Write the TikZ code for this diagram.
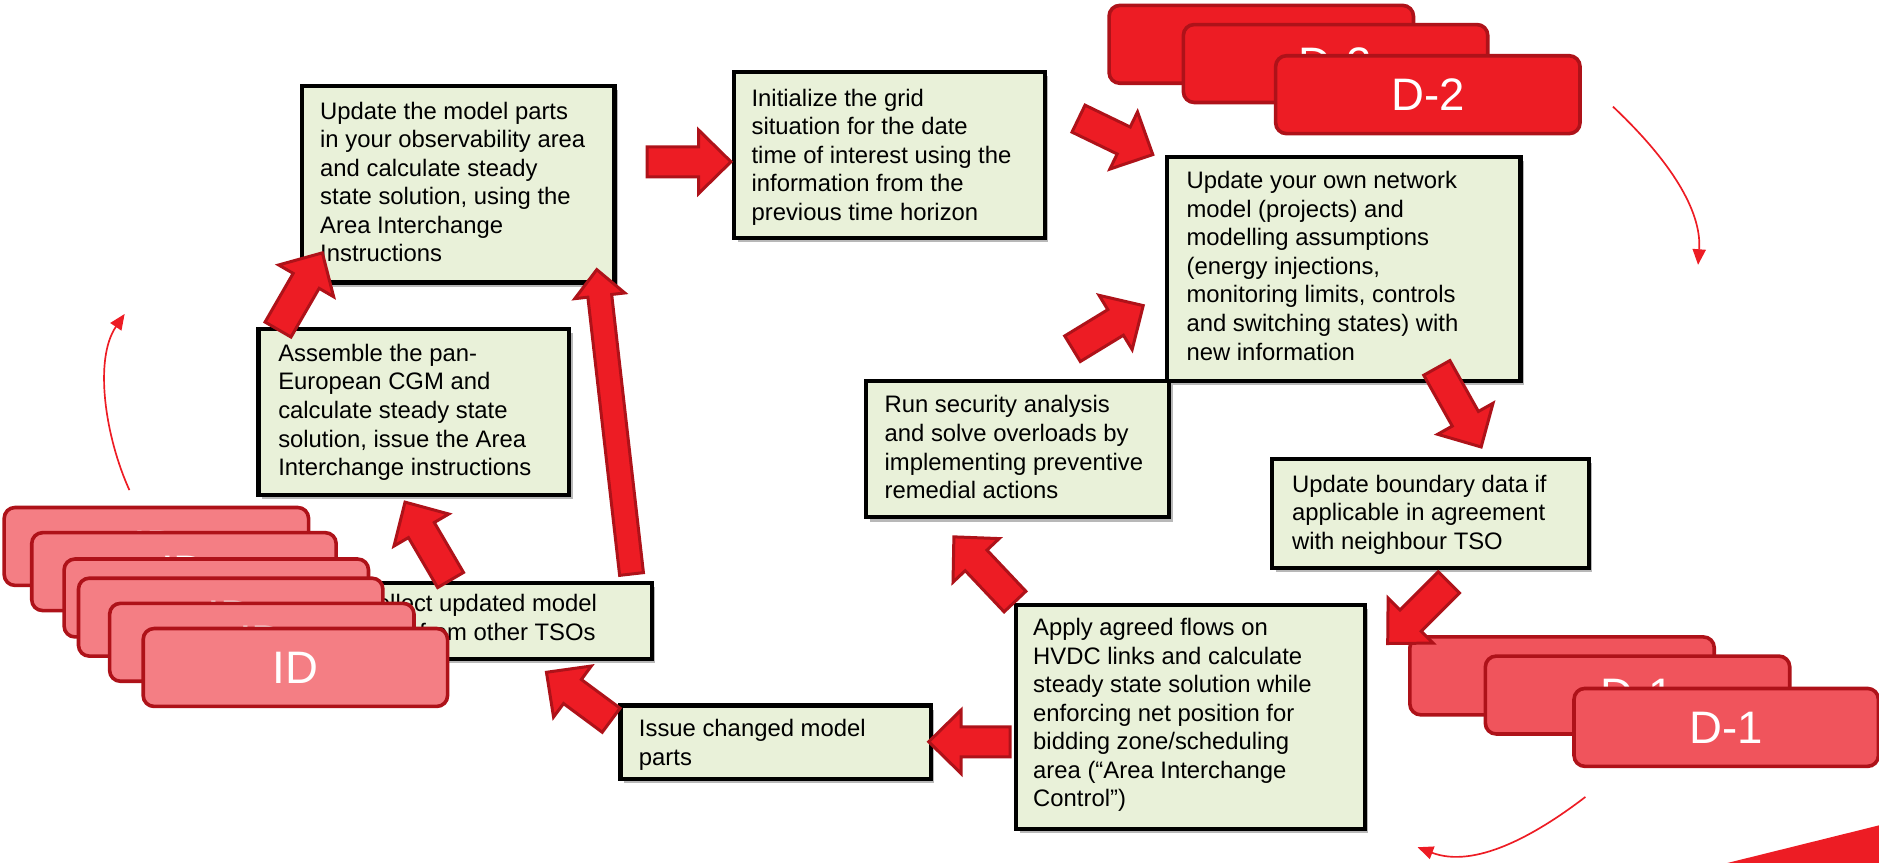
\documentclass[tikz,border=0pt]{standalone}
\usepackage{fontspec}
\setmainfont{Liberation Sans}
\usetikzlibrary{calc,shadows,arrows.meta}
\definecolor{boxgreen}{HTML}{E9F1D9}
\definecolor{brightred}{HTML}{ED1C24}
\definecolor{darkred}{HTML}{AE1219}
\definecolor{midred}{HTML}{F0545C}
\definecolor{pinkred}{HTML}{F47E84}
\tikzset{
  gbox/.style={draw=black, line width=3.5pt, fill=boxgreen, inner sep=0pt, anchor=north west,
    drop shadow={shadow xshift=3pt, shadow yshift=-3.5pt, opacity=0.28, fill=black}},
  gtext/.style={anchor=north west, inner sep=0pt, align=left,
    font=\fontsize{19.9}{23.8}\selectfont, execute at begin node={\rule{0pt}{20pt}}},
  rbox/.style={draw=darkred, line width=3pt, rounded corners=9pt, anchor=north west,
    minimum width=254pt, minimum height=65pt, inner sep=0pt, text=white,
    font=\fontsize{38}{40}\selectfont},
  blockarr/.style={fill=brightred, draw=darkred, line width=2.5pt, line join=miter},
  thinarr/.style={draw=brightred, line width=1.4pt, -{Triangle[length=13pt,width=11pt]}}
}
\newcommand\fatarr[5]{%
  \coordinate (hb) at ($(#2)!#5!(#1)$);
  \draw[blockarr] ($(#1)!#3!90:(#2)$) -- ($(hb)!#3!-90:(#1)$) -- ($(hb)!#4!-90:(#1)$) -- (#2)
    -- ($(hb)!#4!90:(#1)$) -- ($(hb)!#3!90:(#1)$) -- ($(#1)!#3!-90:(#2)$) -- cycle;}
\begin{document}
\begin{tikzpicture}[x=1pt,y=-1pt]
\useasboundingbox (0,0) rectangle (1568,720);

% D-2 stack
\node[rbox, fill=brightred] (d2a) at (924,3) {D-2};
\node[rbox, fill=brightred] (d2b) at (986,19) {D-2};
\node[rbox, fill=brightred] (d2c) at (1063,45) {D-2};

% green boxes
\node[gbox, minimum width=261pt, minimum height=164pt] (b1) at (250,70) {};
\node[gtext] (t1) at ($(b1.north west)+(17,15)$) {Update the model parts\\in your observability area\\and calculate steady\\state solution, using the\\Area Interchange\\Instructions};

\node[gbox, minimum width=259pt, minimum height=139pt] (b2) at (611,58) {};
\node[gtext] (t2) at ($(b2.north west)+(16,16)$) {Initialize the grid\\situation for the date\\time of interest using the\\information from the\\previous time horizon};

\node[gbox, minimum width=295pt, minimum height=187pt] (b3) at (972,129) {};
\node[gtext] (t3) at ($(b3.north west)+(18,14)$) {Update your own network\\model (projects) and\\modelling assumptions\\(energy injections,\\monitoring limits, controls\\and switching states) with\\new information};

\node[gbox, minimum width=253pt, minimum height=114pt] (b4) at (721,316) {};
\node[gtext] (t4) at ($(b4.north west)+(17,14)$) {Run security analysis\\and solve overloads by\\implementing preventive\\remedial actions};

\node[gbox, minimum width=264pt, minimum height=91pt] (b5) at (1060,381) {};
\node[gtext] (t5) at ($(b5.north west)+(18,15)$) {Update boundary data if\\applicable in agreement\\with neighbour TSO};

\node[gbox, minimum width=291pt, minimum height=187pt] (b6) at (846,503) {};
\node[gtext] (t6) at ($(b6.north west)+(16,13)$) {Apply agreed flows on\\HVDC links and calculate\\steady state solution while\\enforcing net position for\\bidding zone/scheduling\\area (“Area Interchange\\Control”)};

\node[gbox, minimum width=259pt, minimum height=61pt] (b7) at (516,587) {};
\node[gtext] (t7) at ($(b7.north west)+(17,13)$) {Issue changed model\\parts};

\node[gbox, minimum width=259pt, minimum height=138pt] (b9) at (214,273) {};
\node[gtext] (t9) at ($(b9.north west)+(18,14)$) {Assemble the pan-\\European CGM and\\calculate steady state\\solution, issue the Area\\Interchange instructions};

\node[gbox, minimum width=259pt, minimum height=63pt] (b8) at (283,485) {};
\node[gtext] (t8) at ($(b8.north west)+(17,11)$) {Collect updated model\\parts from other TSOs};

% D-1 stack
\node[rbox, fill=midred] (d1a) at (1175,530) {D-1};
\node[rbox, fill=midred] (d1b) at (1238,546) {D-1};
\node[rbox, fill=midred] (d1c) at (1312,573) {D-1};

% block arrows
\coordinate (a1t) at (540,135);  \coordinate (a1h) at (610,135);
\coordinate (a2t) at (900,99);   \coordinate (a2h) at (962,129);
\coordinate (a3t) at (895,291);  \coordinate (a3h) at (954,255);
\coordinate (a4t) at (1199,307); \coordinate (a4h) at (1236,373);
\coordinate (a5t) at (1209,486); \coordinate (a5h) at (1158,537);
\coordinate (a6t) at (847,502);  \coordinate (a6h) at (796,448);
\coordinate (a7t) at (843,619);  \coordinate (a7h) at (775,619);
\coordinate (a8t) at (510,601);  \coordinate (a8h) at (456,561);
\coordinate (a9t) at (376,484);  \coordinate (a9h) at (338,419);
\coordinate (a10t) at (232,275); \coordinate (a10h) at (269,211);
\coordinate (a11t) at (527,479); \coordinate (a11h) at (498,225);
\fatarr{a1t}{a1h}{12.5pt}{26.5pt}{27pt}
\fatarr{a2t}{a2h}{12.5pt}{26.5pt}{27pt}
\fatarr{a3t}{a3h}{12.5pt}{26.5pt}{27pt}
\fatarr{a4t}{a4h}{12.5pt}{26.5pt}{27pt}
\fatarr{a5t}{a5h}{12.5pt}{26.5pt}{27pt}
\fatarr{a6t}{a6h}{12.5pt}{26.5pt}{27pt}
\fatarr{a7t}{a7h}{12.5pt}{26.5pt}{27pt}
\fatarr{a8t}{a8h}{12.5pt}{26.5pt}{27pt}
\fatarr{a9t}{a9h}{12.5pt}{26.5pt}{27pt}
\fatarr{a10t}{a10h}{12.5pt}{26.5pt}{27pt}
\fatarr{a11t}{a11h}{10pt}{21pt}{22pt}

% ID stack
\node[rbox, fill=pinkred] (ida) at (2,422) {ID};
\node[rbox, fill=pinkred] (idb) at (25,443) {ID};
\node[rbox, fill=pinkred] (idc) at (52,465) {ID};
\node[rbox, fill=pinkred] (idd) at (64,481) {ID};
\node[rbox, fill=pinkred] (ide) at (90,502) {ID};
\node[rbox, fill=pinkred] (idf) at (118,523) {ID};

% thin curved arrows
\coordinate (c1s) at (1346,89);  \coordinate (c1e) at (1417,221);
\coordinate (c2s) at (1323,665); \coordinate (c2e) at (1183,707);
\coordinate (c3s) at (108,409);  \coordinate (c3e) at (104,262);
\draw[thinarr] (c1s) .. controls (1400,140) and (1420,180) .. (c1e);
\draw[thinarr] (c2s) .. controls (1280,698) and (1230,725) .. (c2e);
\draw[thinarr] (c3s) .. controls (88,365) and (78,300) .. (c3e);

% corner wedge
\fill[brightred] (1438,721) -- (1569,688.5) -- (1569,721) -- cycle;
\end{tikzpicture}
\end{document}
